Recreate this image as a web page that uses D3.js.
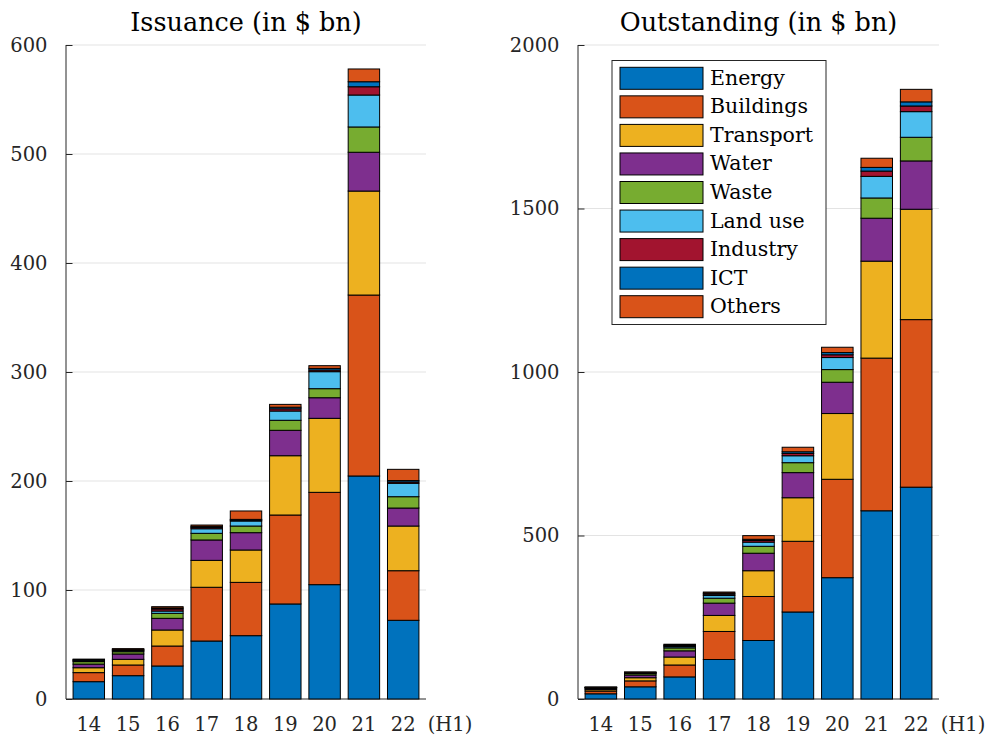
<!DOCTYPE html>
<html>
<head>
<meta charset="utf-8">
<script src="https://cdn.jsdelivr.net/npm/d3@7"></script>
<style>
  html, body { margin: 0; padding: 0; background: #ffffff; }
  svg { display: block; }
  text { font-family: "DejaVu Serif", "Liberation Serif", serif; }
</style>
</head>
<body>
<svg id="chart" width="993" height="740"></svg>
<script>
// ---------- DATA ----------
const categories = ["14", "15", "16", "17", "18", "19", "20", "21", "22"];
const seriesNames = ["Energy", "Buildings", "Transport", "Water", "Waste", "Land use", "Industry", "ICT", "Others"];
const seriesColors = ["#0072BD", "#D95319", "#EDB120", "#7E2F8E", "#77AC30", "#4DBEEE", "#A2142F", "#0072BD", "#D95319"];

// Issuance (in $ bn)
const issEnergy    = [15.9, 21.4, 30.3, 53.2, 58.1, 87.2, 104.9, 204.6, 72.2];
const issBuildings = [8.3, 9.8, 18.3, 49.3, 48.9, 81.6, 84.7, 166.0, 45.5];
const issTransport = [4.5, 5.2, 14.7, 24.7, 29.7, 54.4, 67.9, 95.4, 41.0];
const issWater     = [3.3, 4.9, 10.7, 18.7, 15.9, 23.3, 18.9, 35.6, 16.5];
const issWaste     = [2.3, 2.1, 4.6, 6.1, 6.1, 9.2, 8.3, 23.2, 10.4];
const issLandUse   = [0.8, 1.0, 2.1, 4.2, 4.6, 8.5, 15.6, 29.3, 12.3];
const issIndustry  = [0.5, 0.6, 1.9, 1.2, 0.8, 2.0, 1.5, 7.6, 1.2];
const issICT       = [0.5, 0.6, 0.9, 1.0, 0.7, 1.5, 1.5, 4.6, 1.3];
const issOthers    = [0.5, 0.6, 1.2, 1.2, 7.7, 2.6, 2.5, 11.7, 10.3];

// Outstanding (in $ bn)
const outEnergy    = [15.9, 37.3, 67.6, 120.8, 178.9, 266.1, 371.0, 575.6, 647.8];
const outBuildings = [8.3, 18.1, 36.4, 85.7, 134.6, 216.2, 300.9, 466.9, 512.4];
const outTransport = [4.5, 9.7, 24.4, 49.1, 78.8, 133.2, 201.1, 296.5, 337.5];
const outWater     = [3.3, 8.2, 18.9, 37.6, 53.5, 76.8, 95.7, 131.3, 147.8];
const outWaste     = [2.3, 4.4, 9.0, 15.1, 21.2, 30.4, 38.7, 61.9, 72.3];
const outLandUse   = [0.8, 1.8, 3.9, 8.1, 12.7, 21.2, 36.8, 66.1, 78.4];
const outIndustry  = [0.5, 1.1, 3.0, 4.2, 5.0, 7.0, 8.5, 16.1, 17.3];
const outICT       = [0.5, 1.1, 2.0, 3.0, 3.7, 5.2, 6.7, 11.3, 12.6];
const outOthers    = [0.5, 1.1, 2.3, 3.5, 11.2, 13.8, 16.3, 28.0, 38.3];

const issTicks = [0, 100, 200, 300, 400, 500, 600];
const outTicks = [0, 500, 1000, 1500, 2000];
const lastLabelSuffix = "(H1)";
const titles = ["Issuance (in $ bn)", "Outstanding (in $ bn)"];

// ---------- BUILD ----------
const issSeries = [issEnergy, issBuildings, issTransport, issWater, issWaste, issLandUse, issIndustry, issICT, issOthers];
const outSeries = [outEnergy, outBuildings, outTransport, outWater, outWaste, outLandUse, outIndustry, outICT, outOthers];

function toRows(seriesArr) {
  return categories.map((c, i) => {
    const row = { cat: c };
    seriesNames.forEach((n, k) => { row[n] = seriesArr[k][i]; });
    return row;
  });
}

const svg = d3.select("#chart");
const axisColor = "#262626";
const gridColor = "#e3e3e3";
const tickLen = 6.5;

function drawPanel(cfg) {
  const { x0, x1, y0, y1, yMax, ticks, rows, title } = cfg;
  const g = svg.append("g");
  const x = d3.scaleBand().domain(categories).range([x0, x1]).paddingInner(0.2).paddingOuter(0.18);
  const y = d3.scaleLinear().domain([0, yMax]).range([y0, y1]);

  // grid
  g.append("g").selectAll("line").data(ticks.filter(t => t > 0)).join("line")
    .attr("x1", x0).attr("x2", x1)
    .attr("y1", d => y(d)).attr("y2", d => y(d))
    .attr("stroke", gridColor).attr("stroke-width", 1);

  // y axis (ticks inward)
  const yAxis = d3.axisLeft(y).tickValues(ticks).tickSize(-tickLen).tickPadding(12 + tickLen).tickFormat(d3.format("d"));
  const ya = g.append("g").attr("transform", `translate(${x0},0)`).call(yAxis);
  ya.select(".domain").attr("stroke", axisColor).attr("d", `M0,${y0}V${y1}`);
  ya.selectAll(".tick line").attr("stroke", axisColor);
  ya.selectAll(".tick text").attr("fill", axisColor).attr("font-size", 19.5)
    .attr("font-family", "DejaVu Serif");

  // x axis (ticks inward)
  const xAxis = d3.axisBottom(x).tickSize(-tickLen).tickPadding(12 + tickLen).tickSizeOuter(0);
  const xa = g.append("g").attr("transform", `translate(0,${y0})`).call(xAxis);
  xa.select(".domain").attr("stroke", axisColor).attr("d", `M${x0},0H${x1}`);
  xa.selectAll(".tick line").attr("stroke", axisColor);
  xa.selectAll(".tick text").attr("fill", axisColor).attr("font-size", 19.5)
    .attr("font-family", "DejaVu Serif");

  // suffix after last label
  const last = categories[categories.length - 1];
  g.append("text")
    .attr("x", x(last) + x.bandwidth() / 2 + 24.5)
    .attr("y", y0 + 12 + tickLen)
    .attr("dy", "0.71em")
    .attr("font-size", 19.5).attr("fill", axisColor)
    .text(lastLabelSuffix);

  // bars
  const stacked = d3.stack().keys(seriesNames)(rows);
  g.append("g").selectAll("g").data(stacked).join("g")
    .attr("fill", (d, i) => seriesColors[i])
    .selectAll("rect").data(d => d).join("rect")
    .attr("x", d => x(d.data.cat))
    .attr("width", x.bandwidth())
    .attr("y", d => y(d[1]))
    .attr("height", d => y(d[0]) - y(d[1]))
    .attr("stroke", "#000").attr("stroke-width", 1);

  // title
  g.append("text")
    .attr("x", (x0 + x1) / 2).attr("y", 31)
    .attr("text-anchor", "middle")
    .attr("font-size", 25.5).attr("fill", "#000")
    .text(title);

  return { x, y };
}

drawPanel({ x0: 66, x1: 426, y0: 699, y1: 45, yMax: 600, ticks: issTicks, rows: toRows(issSeries), title: titles[0] });
drawPanel({ x0: 578, x1: 939, y0: 699, y1: 45, yMax: 2000, ticks: outTicks, rows: toRows(outSeries), title: titles[1] });

// legend
const lg = svg.append("g");
const lx = 612, ly = 60.5, lw = 214, lh = 264;
lg.append("rect").attr("x", lx).attr("y", ly).attr("width", lw).attr("height", lh)
  .attr("fill", "#fff").attr("stroke", axisColor).attr("stroke-width", 1);
const rowStep = 28.55;
seriesNames.forEach((n, i) => {
  const top = 67.3 + i * rowStep;
  lg.append("rect").attr("x", 620).attr("y", top).attr("width", 83).attr("height", 22)
    .attr("fill", seriesColors[i]).attr("stroke", "#000").attr("stroke-width", 1);
  lg.append("text").attr("x", 710).attr("y", top + 17.5)
    .attr("font-size", 20.5).attr("fill", "#000").text(n);
});
</script>
</body>
</html>
